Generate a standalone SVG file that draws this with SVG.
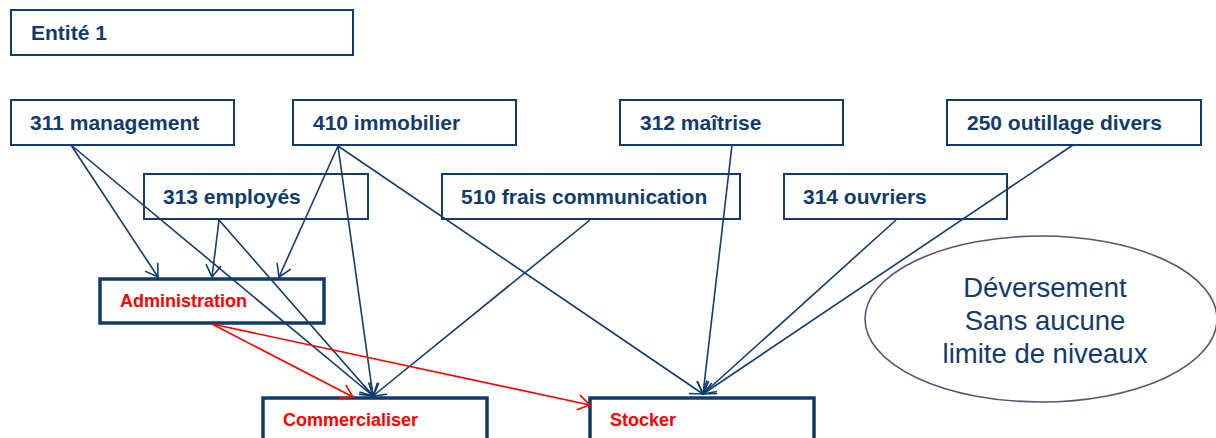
<svg xmlns="http://www.w3.org/2000/svg" width="1216" height="438" viewBox="0 0 1216 438">
<style>
.box{fill:#fff;stroke:#123b6d;stroke-width:2}
.tbox{fill:#fff;stroke:#123b6d;stroke-width:3.5}
.lbl{font-family:"Liberation Sans",Arial,sans-serif;font-weight:bold;font-size:21px;fill:#123b6d}
.rlbl{font-family:"Liberation Sans",Arial,sans-serif;font-weight:bold;font-size:18px;fill:#ff0000}
.note{font-family:"Liberation Sans",Arial,sans-serif;font-size:27.5px;fill:#123b6d;text-anchor:middle}
.c{stroke:#123b6d;stroke-width:1.6;fill:none;marker-end:url(#an)}
.r{stroke:#ff0000;stroke-width:1.6;fill:none;marker-end:url(#ar)}
</style>
<defs>
<marker id="an" markerUnits="userSpaceOnUse" markerWidth="16" markerHeight="16" refX="13" refY="8" orient="auto" overflow="visible">
<path d="M1,0.5 L13,8 L1,15.5" fill="none" stroke="#123b6d" stroke-width="1.6"/>
</marker>
<marker id="ar" markerUnits="userSpaceOnUse" markerWidth="16" markerHeight="16" refX="13" refY="8" orient="auto" overflow="visible">
<path d="M1,0.5 L13,8 L1,15.5" fill="none" stroke="#ff0000" stroke-width="1.6"/>
</marker>
</defs>
<rect width="1216" height="438" fill="#fff"/>
<g id="entite1"><rect class="box" x="11" y="10" width="342" height="45"/><text class="lbl" x="31" y="40">Entité 1</text></g>
<g id="n311"><rect class="box" x="11" y="100" width="223" height="45"/><text class="lbl" x="30" y="130">311 management</text></g>
<g id="n410"><rect class="box" x="293" y="100" width="223" height="45"/><text class="lbl" x="313" y="130">410 immobilier</text></g>
<g id="n312"><rect class="box" x="620" y="100" width="223" height="45"/><text class="lbl" x="640" y="130">312 maîtrise</text></g>
<g id="n250"><rect class="box" x="947" y="100" width="254" height="45"/><text class="lbl" x="967" y="130">250 outillage divers</text></g>
<g id="n313"><rect class="box" x="144" y="174" width="224" height="45"/><text class="lbl" x="163" y="204">313 employés</text></g>
<g id="n510"><rect class="box" x="442" y="174" width="298" height="45"/><text class="lbl" x="461" y="204">510 frais communication</text></g>
<g id="n314"><rect class="box" x="784" y="174" width="223" height="45"/><text class="lbl" x="803" y="204">314 ouvriers</text></g>
<g id="admin"><rect class="tbox" x="100" y="279" width="224" height="44"/><text class="rlbl" x="120" y="307">Administration</text></g>
<g id="commercialiser"><rect class="tbox" x="263" y="398" width="224" height="60"/><text class="rlbl" x="283" y="426">Commercialiser</text></g>
<g id="stocker"><rect class="tbox" x="590" y="398" width="224" height="60"/><text class="rlbl" x="610" y="426">Stocker</text></g>
<g id="note"><ellipse cx="1041" cy="319" rx="176" ry="83" fill="#fff" stroke="#5a5272" stroke-width="1.6"/>
<text class="note" x="1045" y="297">Déversement</text>
<text class="note" x="1045" y="330">Sans aucune</text>
<text class="note" x="1045" y="363">limite de niveaux</text></g>
<g id="connectors">
<line class="c" x1="71" y1="145" x2="158" y2="277"/>
<line class="c" x1="71" y1="145" x2="373" y2="396"/>
<line class="c" x1="219" y1="220" x2="212" y2="277"/>
<line class="c" x1="219" y1="220" x2="373" y2="396"/>
<line class="c" x1="338" y1="146" x2="279" y2="277"/>
<line class="c" x1="338" y1="146" x2="373" y2="396"/>
<line class="c" x1="338" y1="146" x2="703" y2="394"/>
<line class="c" x1="590" y1="220" x2="373" y2="396"/>
<line class="c" x1="732" y1="145" x2="703" y2="394"/>
<line class="c" x1="896" y1="220" x2="703" y2="394"/>
<line class="c" x1="1073" y1="145" x2="703" y2="394"/>
<line class="r" x1="212" y1="324" x2="353" y2="397"/>
<line class="r" x1="212" y1="324" x2="590" y2="405"/>
</g>
</svg>
